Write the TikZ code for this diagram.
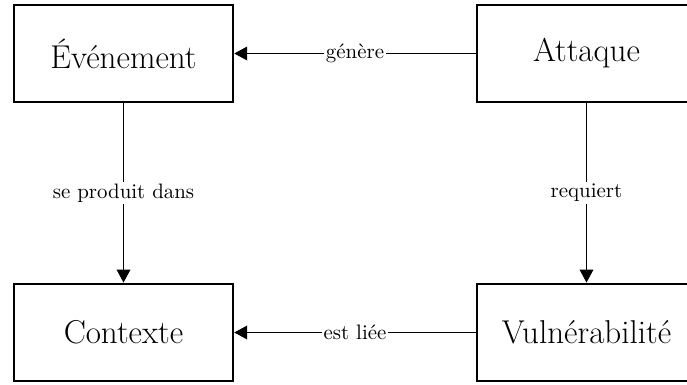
\documentclass[tikz,border=0pt]{standalone}
\usetikzlibrary{arrows.meta}
\begin{document}
\begin{tikzpicture}[x=0.4785pt,y=-0.4785pt,
  entity/.style={draw, line width=1pt, minimum width=105pt, minimum height=46.8pt,
    inner sep=0pt, font=\fontsize{15.8}{19}\selectfont},
  rel/.style={line width=0.45pt, -{Triangle[width=6.6pt,length=6.2pt]}},
  lbl/.style={fill=white, inner sep=1pt, font=\normalsize}]
  \useasboundingbox (0,0) rectangle (687,385);
  \clip (0,0) rectangle (687,385);
  % entities
  \node[entity] (evt) at (123.5,53.5) {Événement};
  \node[entity] (att) at (586.5,53.5) {Attaque};
  \node[entity] (ctx) at (123.5,332.5) {Contexte};
  \node[entity] (vul) at (586.5,332.5) {Vulnérabilité};
  % relations
  \draw[rel] (att) -- node[lbl] {génère} (evt);
  \draw[rel] (evt) -- node[lbl] {se produit dans} (ctx);
  \draw[rel] (att) -- node[lbl] {requiert} (vul);
  \draw[rel] (vul) -- node[lbl] {est liée} (ctx);
\end{tikzpicture}
\end{document}
